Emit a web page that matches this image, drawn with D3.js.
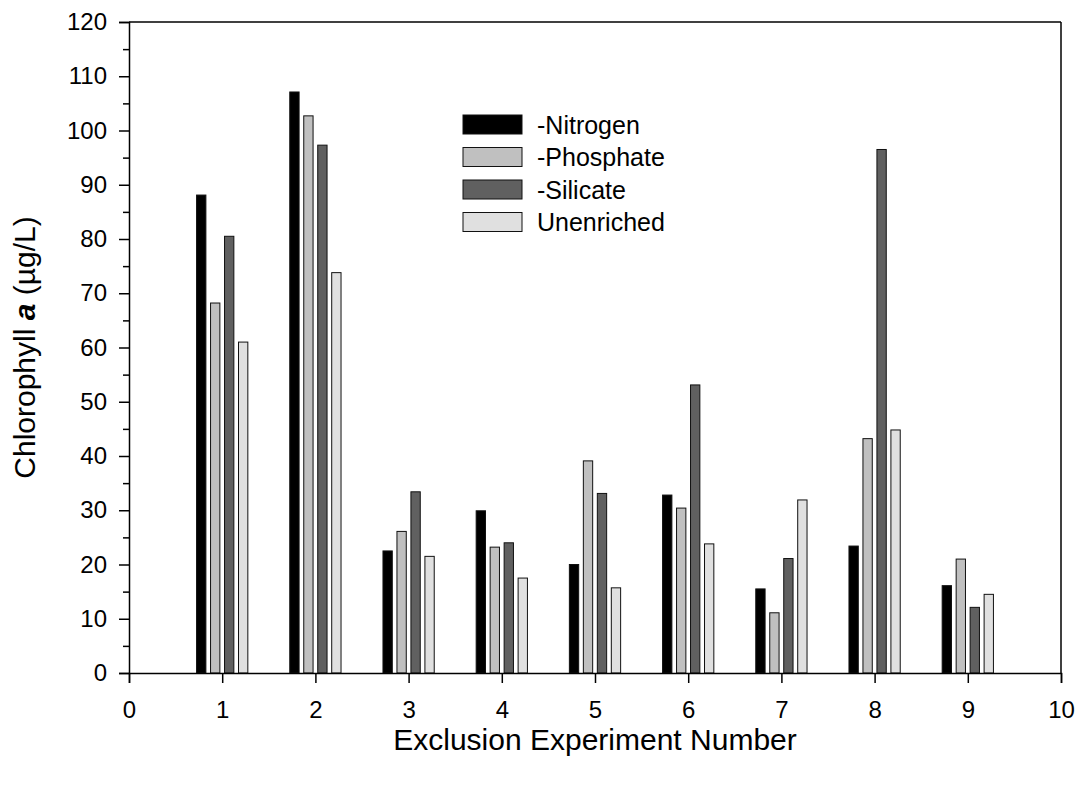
<!DOCTYPE html>
<html>
<head>
<meta charset="utf-8">
<script src="https://cdn.jsdelivr.net/npm/d3@7"></script>
<style>
  body { margin: 0; background: #fff; }
  text { font-family: "Liberation Sans", Arial, sans-serif; }
</style>
</head>
<body>
<svg id="chart" width="1082" height="785"></svg>
<script>
// data
var experiments = [1, 2, 3, 4, 5, 6, 7, 8, 9];
var seriesNames = ["-Nitrogen", "-Phosphate", "-Silicate", "Unenriched"];
var seriesColors = ["#000000", "#c0c0c0", "#606060", "#e0e0e0"];
var nitrogen   = [88.1, 107.1, 22.5, 29.9, 20.0, 32.8, 15.5, 23.4, 16.1];
var phosphate  = [68.2, 102.7, 26.1, 23.2, 39.1, 30.4, 11.1, 43.2, 21.0];
var silicate   = [80.5, 97.3, 33.4, 24.0, 33.1, 53.1, 21.1, 96.5, 12.1];
var unenriched = [61.0, 73.8, 21.5, 17.5, 15.7, 23.8, 31.9, 44.8, 14.5];
var xTicks = [0, 1, 2, 3, 4, 5, 6, 7, 8, 9, 10];
var yTicks = [0, 10, 20, 30, 40, 50, 60, 70, 80, 90, 100, 110, 120];

var series = [nitrogen, phosphate, silicate, unenriched];

var plotLeft = 129, plotRight = 1061, plotTop = 22, plotBottom = 673;
var svg = d3.select("#chart");

var x = d3.scaleLinear().domain([0, 10]).range([plotLeft, plotRight]);
var y = d3.scaleLinear().domain([0, 120]).range([plotBottom, plotTop]);

// bar offsets within a group, in x units
var offsets = [-0.225, -0.075, 0.075, 0.225];
var barW = 0.1;

series.forEach(function(vals, si) {
  svg.append("g").selectAll("rect")
    .data(vals)
    .enter().append("rect")
    .attr("x", function(d, i) { return x(experiments[i] + offsets[si] - barW / 2); })
    .attr("width", x(barW) - x(0))
    .attr("y", function(d) { return y(d); })
    .attr("height", function(d) { return y(0) - y(d); })
    .attr("fill", seriesColors[si])
    .attr("stroke", "#111")
    .attr("stroke-width", 1);
});

// frame
svg.append("line").attr("x1", plotLeft).attr("x2", plotRight).attr("y1", plotTop).attr("y2", plotTop)
  .attr("stroke", "#000").attr("stroke-width", 1.5);
svg.append("line").attr("x1", plotRight).attr("x2", plotRight).attr("y1", plotTop).attr("y2", plotBottom)
  .attr("stroke", "#000").attr("stroke-width", 1.5);

// axes
var xAxis = d3.axisBottom(x).tickValues(xTicks).tickSize(10).tickPadding(18).tickFormat(d3.format("d"));
svg.append("g").attr("transform", "translate(0," + plotBottom + ")").call(xAxis);

var yAxis = d3.axisLeft(y).tickValues(yTicks).tickSize(10).tickPadding(12).tickFormat(d3.format("d"));
svg.append("g").attr("transform", "translate(" + plotLeft + ",0)").call(yAxis);

// minor y ticks
var minor = d3.range(5, 120, 10);
svg.append("g").attr("class", "minor").attr("transform", "translate(" + plotLeft + ",0)")
  .call(d3.axisLeft(y).tickValues(minor).tickSize(6).tickFormat(""))
  .select(".domain").remove();

svg.selectAll(".domain").attr("stroke", "#000").attr("stroke-width", 1.5);
svg.selectAll(".tick line").attr("stroke", "#000").attr("stroke-width", 1.5);
svg.selectAll(".tick text").style("font-size", "24px").attr("fill", "#000")
  .style("font-family", "Liberation Sans, Arial, sans-serif");

// axis titles
svg.append("text")
  .attr("x", (plotLeft + plotRight) / 2).attr("y", 750)
  .attr("text-anchor", "middle").style("font-size", "30px")
  .text("Exclusion Experiment Number");

var yt = svg.append("text")
  .attr("transform", "translate(35," + ((plotTop + plotBottom) / 2) + ") rotate(-90)")
  .attr("text-anchor", "middle").style("font-size", "30px");
yt.append("tspan").text("Chlorophyll ");
yt.append("tspan").attr("font-style", "italic").attr("font-weight", "bold").text("a");
yt.append("tspan").text(" (µg/L)");

// legend
var legend = svg.append("g").attr("transform", "translate(463,115)");
seriesNames.forEach(function(name, i) {
  var g = legend.append("g").attr("transform", "translate(0," + (i * 32.5) + ")");
  g.append("rect").attr("width", 59).attr("height", 19)
    .attr("fill", seriesColors[i]).attr("stroke", "#111").attr("stroke-width", 1);
  g.append("text").attr("x", 74).attr("y", 18.5).style("font-size", "25px").text(name);
});
</script>
</body>
</html>
